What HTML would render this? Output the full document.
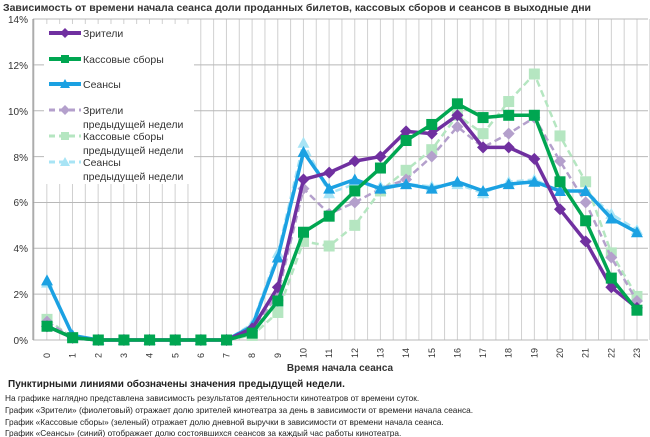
<!DOCTYPE html>
<html><head><meta charset="utf-8"><style>
body{margin:0;width:650px;height:437px;background:#fff;overflow:hidden;font-family:"Liberation Sans",sans-serif}
svg{position:absolute;left:0;top:0}
</style></head><body>
<svg id="s" width="650" height="437" xmlns="http://www.w3.org/2000/svg" font-family="Liberation Sans, sans-serif">
<text x="3" y="11" font-size="10.5" font-weight="bold" fill="#333" textLength="588">Зависимость от времени начала сеанса доли проданных билетов, кассовых сборов и сеансов в выходные дни</text>
<g font-size="10" fill="#333" text-anchor="end">
<text x="28" y="23">14%</text><text x="28" y="69">12%</text><text x="28" y="115">10%</text><text x="28" y="161">8%</text><text x="28" y="206">6%</text><text x="28" y="252">4%</text><text x="28" y="298">2%</text><text x="28" y="344">0%</text>
</g>
<g id="grid"></g>
<g id="xl" font-size="9" fill="#333"></g>
<text x="340" y="371" font-size="10" font-weight="bold" text-anchor="middle" fill="#333">Время начала сеанса</text>
<g id="ser"></g>
<rect x="44" y="24" width="150" height="160" fill="#fff"/>
<g font-size="10.5" fill="#333">
<line x1="49" y1="33" x2="81" y2="33" stroke="#7030a0" stroke-width="4"/><polygon points="65,28 70,33 65,38 60,33" fill="#7030a0"/><text x="83" y="37">Зрители</text>
<line x1="49" y1="59" x2="81" y2="59" stroke="#00a651" stroke-width="4"/><rect x="61" y="55" width="8" height="8" fill="#00a651"/><text x="83" y="63">Кассовые сборы</text>
<line x1="49" y1="84" x2="81" y2="84" stroke="#1ba1e2" stroke-width="4"/><polygon points="65,79 70,88 60,88" fill="#1ba1e2"/><text x="83" y="88">Сеансы</text>
<line x1="49" y1="110" x2="81" y2="110" stroke="#b4a0cc" stroke-width="3" stroke-dasharray="6,4"/><polygon points="65,105 70,110 65,115 60,110" fill="#b4a0cc"/><text x="83" y="114">Зрители</text><text x="83" y="128">предыдущей недели</text>
<line x1="49" y1="136" x2="81" y2="136" stroke="#b5e6c1" stroke-width="3" stroke-dasharray="6,4"/><rect x="61" y="132" width="8" height="8" fill="#b5e6c1"/><text x="83" y="140">Кассовые сборы</text><text x="83" y="154">предыдущей недели</text>
<line x1="49" y1="162" x2="81" y2="162" stroke="#a8e4f5" stroke-width="3" stroke-dasharray="6,4"/><polygon points="65,157 70,166 60,166" fill="#a8e4f5"/><text x="83" y="166">Сеансы</text><text x="83" y="180">предыдущей недели</text>
</g>
<text x="8" y="387" font-size="10" font-weight="bold" fill="#222">Пунктирными линиями обозначены значения предыдущей недели.</text>
<g font-size="8.3" fill="#222">
<text x="5" y="401">На графике наглядно представлена зависимость результатов деятельности кинотеатров от времени суток.</text>
<text x="5" y="413">График «Зрители» (фиолетовый) отражает долю зрителей кинотеатра за день в зависимости от времени начала сеанса.</text>
<text x="5" y="425">График «Кассовые сборы» (зеленый) отражает долю дневной выручки в зависимости от времени начала сеанса.</text>
<text x="5" y="436">График «Сеансы» (синий) отображает долю состоявшихся сеансов за каждый час работы кинотеатра.</text>
</g>
</svg>
<script>
var NS="http://www.w3.org/2000/svg";
function el(t,a,p){var e=document.createElementNS(NS,t);for(var k in a)e.setAttribute(k,a[k]);p.appendChild(e);return e;}
var g=document.getElementById("grid"),ser=document.getElementById("ser"),xl=document.getElementById("xl");
function X(i){return 47+25.65*i;} function Y(v){return 340-v*22.93;}
for(var k=0;k<=48;k++){var x=34+12.83*k;el("line",{x1:x,y1:19,x2:x,y2:340,stroke:"#d0d0d0","stroke-width":1},g);}
for(var v=0;v<=7;v++){el("line",{x1:33,y1:19+45.86*v,x2:648,y2:19+45.86*v,stroke:"#b8b8b8","stroke-width":1},g);}
el("line",{x1:33,y1:19,x2:33,y2:340,stroke:"#888"},g);
for(var i=0;i<24;i++){var t=el("text",{transform:"translate("+(X(i)+3)+",358) rotate(-90)"},xl);t.textContent=i;}
var z=[0.6,0.1,0,0,0,0,0,0,0.5,2.3,7.0,7.3,7.8,8.0,9.1,9.0,9.8,8.4,8.4,7.9,5.7,4.3,2.3,1.4];
var k2=[0.6,0.1,0,0,0,0,0,0,0.3,1.7,4.7,5.4,6.5,7.5,8.7,9.4,10.3,9.7,9.8,9.8,6.9,5.2,2.7,1.3];
var s=[2.6,0.2,0,0,0,0,0,0,0.6,3.6,8.2,6.6,7.0,6.6,6.8,6.6,6.9,6.5,6.8,6.9,6.5,6.5,5.3,4.7];
var pz=[0.8,0.1,0,0,0,0,0,0,0.4,2.0,6.6,5.5,6.0,6.6,7.0,8.0,9.3,8.4,9.0,9.7,7.8,6.0,3.6,1.7];
var pk=[0.9,0.1,0,0,0,0,0,0,0.2,1.2,4.3,4.1,5.0,6.5,7.4,8.3,9.8,9.0,10.4,11.6,8.9,6.9,3.8,1.9];
var ps=[2.5,0.2,0,0,0,0,0,0,0.7,3.8,8.6,6.4,6.8,6.7,6.8,6.7,6.8,6.4,6.9,7.0,6.5,6.5,5.5,4.8];
function draw(d,c,w,dash,m){var pts=d.map(function(v,i){return X(i)+","+Y(v)}).join(" ");
var a={points:pts,fill:"none",stroke:c,"stroke-width":w,"stroke-linejoin":"round"};if(dash)a["stroke-dasharray"]=dash;el("polyline",a,ser);
d.forEach(function(v,i){var x=X(i),y=Y(v);
if(m=="d")el("polygon",{points:(x)+","+(y-6)+" "+(x+6)+","+y+" "+x+","+(y+6)+" "+(x-6)+","+y,fill:c},ser);
else if(m=="s")el("rect",{x:x-5.5,y:y-5.5,width:11,height:11,fill:c},ser);
else el("polygon",{points:x+","+(y-6)+" "+(x+6)+","+(y+5)+" "+(x-6)+","+(y+5),fill:c},ser);});}
draw(pk,"#b5e6c1",2.5,"7,4","s");
draw(pz,"#b4a0cc",2.5,"7,4","d");
draw(ps,"#a8e4f5",2.5,"7,4","t");
draw(s,"#1ba1e2",3.5,null,"t");
draw(z,"#7030a0",3.5,null,"d");
draw(k2,"#00a651",3.5,null,"s");
</script>
</body></html>
